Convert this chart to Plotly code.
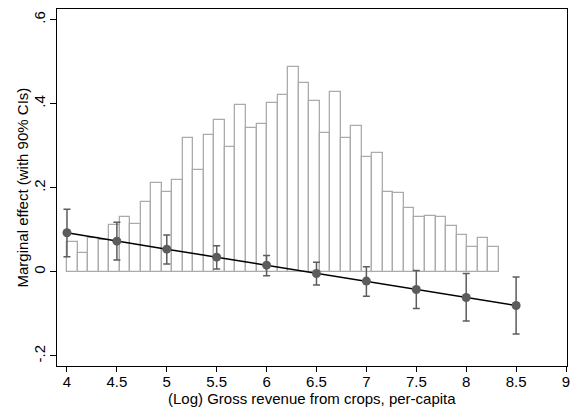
import plotly.graph_objects as go

# Histogram (scaled to the y axis)
hist_start = 4.0
hist_width = 0.1055
hist_heights = [0.070, 0.045, 0.081, 0.077, 0.111, 0.131, 0.115, 0.167, 0.212, 0.189,
                0.218, 0.319, 0.242, 0.325, 0.362, 0.296, 0.396, 0.342, 0.351, 0.401,
                0.421, 0.487, 0.449, 0.406, 0.330, 0.429, 0.319, 0.346, 0.273, 0.283,
                0.190, 0.187, 0.152, 0.130, 0.134, 0.130, 0.109, 0.088, 0.060, 0.080,
                0.060]

# Marginal effects with 90% CIs
me_x = [4, 4.5, 5, 5.5, 6, 6.5, 7, 7.5, 8, 8.5]
me_y = [0.093, 0.073, 0.054, 0.035, 0.016, -0.004, -0.022, -0.042, -0.061, -0.080]
ci_hi = [0.149, 0.118, 0.088, 0.062, 0.039, 0.023, 0.012, 0.003, -0.004, -0.012]
ci_lo = [0.036, 0.028, 0.019, 0.007, -0.009, -0.031, -0.058, -0.087, -0.117, -0.148]

x_ticks = [4, 4.5, 5, 5.5, 6, 6.5, 7, 7.5, 8, 8.5, 9]
x_ticklabels = ["4", "4.5", "5", "5.5", "6", "6.5", "7", "7.5", "8", "8.5", "9"]
y_ticks = [-0.2, 0, 0.2, 0.4, 0.6]
y_ticklabels = ["-.2", "0", ".2", ".4", ".6"]

x_title = "(Log) Gross revenue from crops, per-capita"
y_title = "Marginal effect (with 90% CIs)"

centers = [hist_start + hist_width * (i + 0.5) for i in range(len(hist_heights))]

fig = go.Figure()
fig.add_trace(go.Bar(
    x=centers, y=hist_heights, width=hist_width,
    marker=dict(color="white", line=dict(color="#ababab", width=1.3)),
    showlegend=False, hoverinfo="skip",
))
fig.add_trace(go.Scatter(
    x=me_x, y=me_y, mode="lines",
    line=dict(color="black", width=1.5), showlegend=False,
))
fig.add_trace(go.Scatter(
    x=me_x, y=me_y, mode="markers",
    marker=dict(color="#5c5c5c", size=9),
    error_y=dict(type="data", symmetric=False,
                 array=[h - m for h, m in zip(ci_hi, me_y)],
                 arrayminus=[m - l for m, l in zip(me_y, ci_lo)],
                 color="#5c5c5c", thickness=1.5, width=3.5),
    showlegend=False,
))

axis_font = dict(family="Liberation Sans, Arial, sans-serif", size=15, color="black")
fig.update_layout(
    width=580, height=414,
    margin=dict(l=57, r=13, t=9, b=48),
    paper_bgcolor="white", plot_bgcolor="white",
    font=axis_font,
    bargap=0,
    xaxis=dict(range=[3.9, 9.01], tickvals=x_ticks, ticktext=x_ticklabels,
               automargin=False,
               showgrid=False, zeroline=False, showline=True, linecolor="black",
               linewidth=1, mirror=True, ticks="outside", ticklen=5,
               tickcolor="black", tickfont=axis_font, ticklabelstandoff=-3),
    yaxis=dict(range=[-0.224, 0.6255], tickvals=y_ticks, ticktext=y_ticklabels,
               automargin=False,
               showgrid=False, zeroline=False, showline=True, linecolor="black",
               linewidth=1, mirror=True, ticks="outside", ticklen=6,
               tickcolor="black", tickangle=-90, tickfont=axis_font,
               ticklabelstandoff=-1),
    annotations=[
        dict(text=x_title, xref="paper", yref="paper", x=0.5, y=0,
             xanchor="center", yanchor="middle", yshift=-32, showarrow=False,
             font=axis_font),
        dict(text=y_title, xref="paper", yref="paper", x=0, y=0.5,
             xanchor="center", yanchor="middle", xshift=-35, textangle=-90,
             showarrow=False, font=axis_font),
    ],
)
fig.write_html(
    "out.html",
    config={"displayModeBar": False},
    post_script="document.body.style.margin='0';document.body.style.overflow='hidden';",
)
